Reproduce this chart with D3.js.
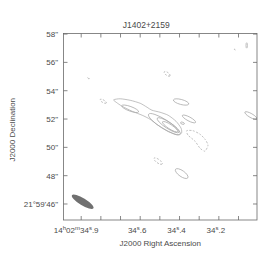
<!DOCTYPE html>
<html><head><meta charset="utf-8">
<script src="https://cdn.jsdelivr.net/npm/d3@7"></script>
<style>body{margin:0;background:#fff}svg{display:block}text{font-family:"Liberation Sans",Arial,sans-serif;fill:#4a4a4a}</style>
</head><body><svg id="c" width="275" height="263"></svg>
<script>
// Axis domains (RA seconds of 14h02m, Dec arcsec of 21°59')
const raDomain = [34.99, 34.006];
const decDomain = [44.87, 58.04];
const raTicks = [34.9, 34.8, 34.7, 34.6, 34.5, 34.4, 34.3, 34.2, 34.1];
const raLabels = {34.9: "34.9", 34.6: "34.6", 34.4: "34.4", 34.2: "34.2"};
const decTicks = [46, 48, 50, 52, 54, 56, 58];
const decLabels = ["21°59'46\"", "48\"", "50\"", "52\"", "54\"", "56\"", "58\""];
const title = "J1402+2159";
// Contour ellipses: RA(s), Dec("), semi-major("), semi-minor("), PA(deg), dashed
const ellRA   = [34.651, 34.477, 34.458, 34.448, 34.392, 34.352, 34.385, 34.389, 34.509, 34.788, 34.463, 34.863, 34.0584, 34.118, 34.037];
const ellDec  = [52.725, 51.634, 51.563, 51.458, 53.204, 52.007, 51.704, 48.148, 49.028, 53.254, 55.190, 54.894, 57.197, 56.915, 52.246];
const ellMaj  = [0.634, 1.317, 0.915, 0.634, 0.563, 0.528, 0.141, 0.528, 0.352, 0.246, 0.246, 0.07, 0.19, 0.05, 0.49];
const ellMin  = [0.162, 0.317, 0.225, 0.155, 0.176, 0.141, 0.07, 0.211, 0.127, 0.09, 0.106, 0.03, 0.05, 0.03, 0.14];
const ellPA   = [70, 57.6, 57, 57, 75, 62, 70, 55, 55, 60, 55, 45, 0, 45, 60];
const ellDash = [0, 0, 0, 0, 0, 0, 0, 0, 1, 1, 1, 1, 0, 1, 0];
// Outer main contour (closed polyline)
const outerRA  = [34.735, 34.702, 34.651, 34.600, 34.565, 34.540, 34.499, 34.458, 34.418, 34.392, 34.390, 34.413, 34.458, 34.509, 34.550, 34.590, 34.641, 34.692, 34.722];
const outerDec = [53.359, 53.430, 53.324, 53.113, 52.831, 52.620, 52.479, 52.268, 51.845, 51.352, 51.000, 50.894, 51.141, 51.563, 51.986, 52.268, 52.549, 52.901, 53.183];
// Negative (dashed) contour
const negRA  = [34.3635, 34.3315, 34.296, 34.2706, 34.2553, 34.2706, 34.296, 34.3213, 34.3569];
const negDec = [51.176, 51.176, 50.930, 50.577, 50.155, 49.732, 49.944, 50.437, 50.859];
// Beam
const beam = {ra: 34.8924, dec: 46.16, maj: 0.89, min: 0.25, pa: 58.4};

const svg = d3.select("#c");
const L = 63.5, R = 257, T = 33.5, B = 220;
const x = d3.scaleLinear().domain(raDomain).range([L, R]);
const y = d3.scaleLinear().domain(decDomain).range([B, T]);
const asec = d => Math.abs(y(decDomain[0] + d) - y(decDomain[0]));

svg.append("defs").append("clipPath").attr("id", "clip")
  .append("rect").attr("x", L).attr("y", T).attr("width", R - L).attr("height", B - T);
const g = svg.append("g").attr("clip-path", "url(#clip)");

const stroke = "#a6a6a6";
const sw = 0.7;
d3.range(ellRA.length).forEach(i => {
  g.append("ellipse")
    .attr("transform", `translate(${x(ellRA[i])},${y(ellDec[i])}) rotate(${90 - ellPA[i]})`)
    .attr("rx", asec(ellMaj[i])).attr("ry", asec(ellMin[i]))
    .attr("fill", "none").attr("stroke", stroke).attr("stroke-width", sw)
    .attr("stroke-dasharray", ellDash[i] ? "2,1.5" : null);
});
const line = d3.line().x(d => x(d[0])).y(d => y(d[1])).curve(d3.curveCardinalClosed.tension(0.3));
g.append("path").attr("d", line(d3.zip(outerRA, outerDec)))
  .attr("fill", "none").attr("stroke", stroke).attr("stroke-width", sw);
g.append("path").attr("d", line(d3.zip(negRA, negDec)))
  .attr("fill", "none").attr("stroke", stroke).attr("stroke-width", sw).attr("stroke-dasharray", "2,1.5");
g.append("ellipse")
  .attr("transform", `translate(${x(beam.ra)},${y(beam.dec)}) rotate(${90 - beam.pa})`)
  .attr("rx", asec(beam.maj)).attr("ry", asec(beam.min)).attr("fill", "#707070");

const axc = "#6a6a6a";
svg.append("rect").attr("x", L).attr("y", T).attr("width", R - L).attr("height", B - T)
  .attr("fill", "none").attr("stroke", axc).attr("stroke-width", 0.8);
const tk = 4;
raTicks.forEach(v => {
  svg.append("line").attr("x1", x(v)).attr("x2", x(v)).attr("y1", B).attr("y2", B - tk).attr("stroke", axc).attr("stroke-width", 0.8);
  svg.append("line").attr("x1", x(v)).attr("x2", x(v)).attr("y1", T).attr("y2", T + tk).attr("stroke", axc).attr("stroke-width", 0.8);
});
decTicks.forEach(v => {
  svg.append("line").attr("x1", L).attr("x2", L + tk).attr("y1", y(v)).attr("y2", y(v)).attr("stroke", axc).attr("stroke-width", 0.8);
  svg.append("line").attr("x1", R).attr("x2", R - tk).attr("y1", y(v)).attr("y2", y(v)).attr("stroke", axc).attr("stroke-width", 0.8);
});
decTicks.forEach((v, i) => {
  svg.append("text").attr("x", 58).attr("y", y(v) + 3).attr("text-anchor", "end")
    .attr("font-size", 8).text(decLabels[i]);
});
raTicks.forEach(v => {
  if (!raLabels[v]) return;
  const t = svg.append("text").attr("y", 233).attr("font-size", 8).attr("text-anchor", "middle");
  const parts = raLabels[v].split(".");
  if (v === 34.9) {
    t.attr("x", x(v) - 5);
    t.append("tspan").text("14");
    t.append("tspan").attr("dy", -3).attr("font-size", 6).text("h");
    t.append("tspan").attr("dy", 3).text("02");
    t.append("tspan").attr("dy", -3).attr("font-size", 6).text("m");
    t.append("tspan").attr("dy", 3).text(parts[0]);
  } else {
    t.attr("x", x(v) - 3);
    t.append("tspan").text(parts[0]);
  }
  t.append("tspan").attr("dy", -3).attr("font-size", 6).text("s");
  t.append("tspan").attr("dy", 3).text("." + parts[1]);
});
svg.append("text").attr("x", (L + R) / 2 - 14).attr("y", 28).attr("text-anchor", "middle").attr("font-size", 8.5).text(title);
svg.append("text").attr("x", (L + R) / 2).attr("y", 246).attr("text-anchor", "middle").attr("font-size", 8).text("J2000 Right Ascension");
svg.append("text").attr("transform", `translate(15,${(T + B) / 2 + 3}) rotate(-90)`).attr("text-anchor", "middle").attr("font-size", 8).text("J2000 Declination");
</script></body></html>
